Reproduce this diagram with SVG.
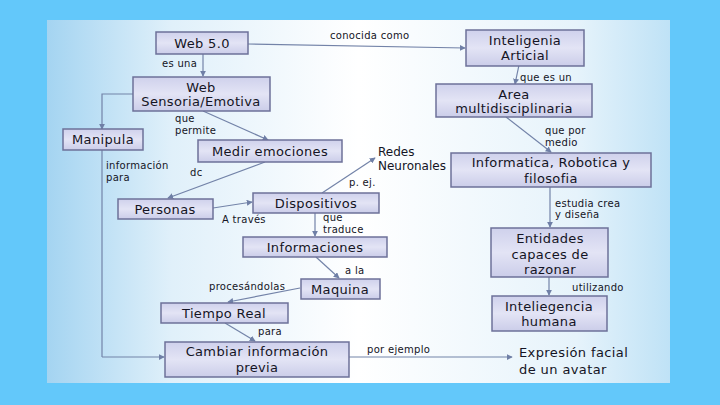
<svg xmlns="http://www.w3.org/2000/svg" width="720" height="405" viewBox="0 0 720 405">
<defs>
<linearGradient id="panel" x1="0" y1="0" x2="1" y2="0">
<stop offset="0" stop-color="#a4d4f1"/>
<stop offset="0.2" stop-color="#e0f0fa"/>
<stop offset="0.5" stop-color="#ffffff"/>
<stop offset="0.85" stop-color="#e6f3fb"/>
<stop offset="1" stop-color="#bfe2f6"/>
</linearGradient>
<linearGradient id="box" x1="0" y1="0" x2="0" y2="1">
<stop offset="0" stop-color="#cfd1ec"/>
<stop offset="0.5" stop-color="#e3e4f5"/>
<stop offset="1" stop-color="#cbcde9"/>
</linearGradient>
<marker id="ah" viewBox="0 0 8 8" refX="7" refY="4" markerWidth="6" markerHeight="6" orient="auto" markerUnits="userSpaceOnUse">
<path d="M0,0 L8,4 L0,8 z" fill="#6f7fa6"/>
</marker>
</defs>
<style>
.bx{fill:url(#box);stroke:#6d7199;stroke-width:1.5}
.t{font-family:"DejaVu Sans",Verdana,sans-serif;font-size:13px;letter-spacing:0.35px;fill:#141424;text-anchor:middle}
.l{font-family:"DejaVu Sans",Verdana,sans-serif;font-size:10px;letter-spacing:0.3px;fill:#141424}
.c{fill:none;stroke:#7383a8;stroke-width:1.2;marker-end:url(#ah)}
.cn{fill:none;stroke:#7383a8;stroke-width:1.2}
</style>
<rect width="720" height="405" fill="#63c8fa"/>
<rect x="47" y="20" width="623" height="363" fill="url(#panel)"/>
<g id="connectors">
<path class="c" d="M248,44 L465,48"/>
<path class="c" d="M203,54 L203,76"/>
<path class="c" d="M133,94 L102,94 L102,129"/>
<path class="c" d="M519,65 L515,84"/>
<path class="c" d="M203,111 L268,140"/>
<path class="c" d="M506,117 L551,152"/>
<path class="cn" d="M102,150 L102,357"/>
<path class="c" d="M102,357 L164,357"/>
<path class="c" d="M265,162 L168,198"/>
<path class="c" d="M322,193 L375,158"/>
<path class="c" d="M213,208 L252,202"/>
<path class="c" d="M550,187 L550,227"/>
<path class="c" d="M315,213 L315,236"/>
<path class="c" d="M316,257 L339,278"/>
<path class="c" d="M300,288 L228,302"/>
<path class="c" d="M549,277 L549,295"/>
<path class="c" d="M225,323 L255,341"/>
<path class="c" d="M349,357 L512,357"/>
</g>
<g id="labels">
<text class="l" x="330" y="39">conocida como</text>
<text class="l" x="162" y="67">es una</text>
<text class="l" x="520" y="81">que es un</text>
<text class="l" x="175" y="122">que</text>
<text class="l" x="175" y="134">permite</text>
<text class="l" x="545" y="134">que por</text>
<text class="l" x="545" y="146">medio</text>
<text class="l" x="106" y="169">información</text>
<text class="l" x="106" y="181">para</text>
<text class="l" x="190" y="176">dc</text>
<text class="l" x="349" y="186">p. ej.</text>
<text class="l" x="222" y="223">A través</text>
<text class="l" x="323" y="221">que</text>
<text class="l" x="323" y="233">traduce</text>
<text class="l" x="555" y="207">estudia crea</text>
<text class="l" x="555" y="218">y diseña</text>
<text class="l" x="345" y="274">a la</text>
<text class="l" x="209" y="290">procesándolas</text>
<text class="l" x="572" y="291">utilizando</text>
<text class="l" x="258" y="335">para</text>
<text class="l" x="367" y="353">por ejemplo</text>
</g>
<g id="n-web50"><rect class="bx" x="156" y="32" width="92" height="22"/><text class="t" x="202" y="48">Web 5.0</text></g>
<g id="n-ia"><rect class="bx" x="466" y="30" width="118" height="36"/><text class="t" x="525" y="45">Inteligenia</text><text class="t" x="525" y="60">Articial</text></g>
<g id="n-websens"><rect class="bx" x="133" y="77" width="137" height="34"/><text class="t" x="201" y="92">Web</text><text class="t" x="201" y="106">Sensoria/Emotiva</text></g>
<g id="n-area"><rect class="bx" x="436" y="84" width="156" height="33"/><text class="t" x="514" y="99">Area</text><text class="t" x="514" y="113">multidisciplinaria</text></g>
<g id="n-manipula"><rect class="bx" x="63" y="129" width="80" height="21"/><text class="t" x="103" y="144">Manipula</text></g>
<g id="n-medir"><rect class="bx" x="198" y="140" width="144" height="22"/><text class="t" x="270" y="156">Medir emociones</text></g>
<g id="n-redes"><text class="t" x="378" y="156" style="text-anchor:start;font-size:12px;letter-spacing:0">Redes</text><text class="t" x="378" y="170" style="text-anchor:start;font-size:12px;letter-spacing:0">Neuronales</text></g>
<g id="n-informatica"><rect class="bx" x="451" y="153" width="200" height="34"/><text class="t" x="551" y="167">Informatica, Robotica y</text><text class="t" x="551" y="183">filosofia</text></g>
<g id="n-personas"><rect class="bx" x="118" y="199" width="95" height="20"/><text class="t" x="165" y="214">Personas</text></g>
<g id="n-dispositivos"><rect class="bx" x="253" y="193" width="126" height="20"/><text class="t" x="316" y="208">Dispositivos</text></g>
<g id="n-informaciones"><rect class="bx" x="243" y="237" width="144" height="20"/><text class="t" x="315" y="252">Informaciones</text></g>
<g id="n-entidades"><rect class="bx" x="491" y="228" width="117" height="49"/><text class="t" x="550" y="243">Entidades</text><text class="t" x="550" y="259">capaces de</text><text class="t" x="550" y="274">razonar</text></g>
<g id="n-maquina"><rect class="bx" x="301" y="279" width="79" height="20"/><text class="t" x="340" y="294">Maquina</text></g>
<g id="n-humana"><rect class="bx" x="492" y="296" width="115" height="35"/><text class="t" x="549" y="311">Inteliegencia</text><text class="t" x="549" y="326">humana</text></g>
<g id="n-tiempo"><rect class="bx" x="161" y="303" width="127" height="20"/><text class="t" x="224" y="318">Tiempo Real</text></g>
<g id="n-cambiar"><rect class="bx" x="165" y="342" width="184" height="35"/><text class="t" x="257" y="356">Cambiar información</text><text class="t" x="257" y="372">previa</text></g>
<g id="n-expresion"><text class="t" x="519" y="357" style="text-anchor:start;font-size:13px;letter-spacing:0.4px">Expresión facial</text><text class="t" x="519" y="374" style="text-anchor:start;font-size:13px;letter-spacing:0.4px">de un avatar</text></g>
</svg>
